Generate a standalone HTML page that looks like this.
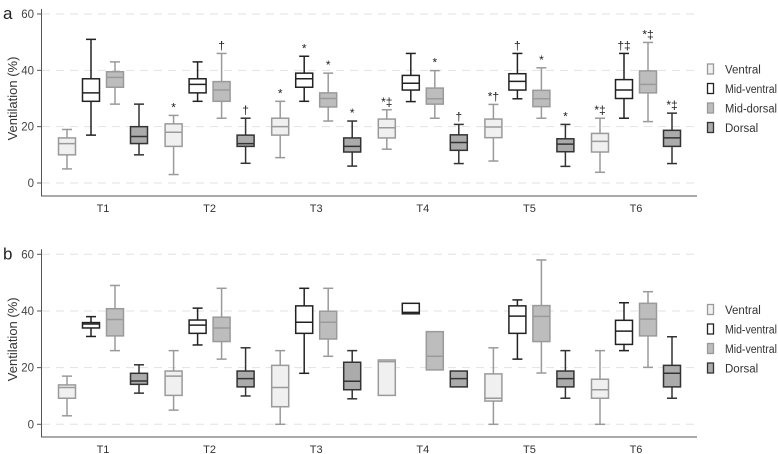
<!DOCTYPE html>
<html><head><meta charset="utf-8"><style>
body{margin:0;background:#fff}
svg{display:block;font-family:"Liberation Sans",Arial,sans-serif}
</style></head><body>
<svg id="chart" width="778" height="454" viewBox="0 0 778 454"></svg>
<script>
const categories = ["T1","T2","T3","T4","T5","T6"];
const seriesNamesA = ["Ventral","Mid-ventral","Mid-dorsal","Dorsal"];
const seriesNamesB = ["Ventral","Mid-ventral","Mid-ventral","Dorsal"];
const yTicks = [0,20,40,60];
// [low, q1, median, q3, high]
const ventralA   = [[5,10,14,16,19],[3,13,18,21,24],[9,17,20,23,29],[12,16,19.6,22.7,26],[7.8,16.1,19.9,22.7,27.9],[3.8,11,14.8,17.6,23]];
const midVentralA= [[17,29,32,37,51],[29,32,35,37,43],[29,34,37,39,45],[28.9,33,35.4,38.2,46],[29.9,33,36.1,38.8,46],[23,30,33,36.7,46]];
const midDorsalA = [[28,34,37.5,39.5,43],[23,29,33,36,46],[22,27,30,32,39],[23,28,29.9,33.7,39.9],[23,27.1,29.9,32.9,40.9],[21.8,32,35,39.8,49.9]];
const dorsalA    = [[10,14,16.5,20,28],[7,13,14,17,23],[6,11,13,16,22],[6.9,11.6,14.4,17.1,20.8],[5.9,11.1,13.8,15.7,20.8],[6.9,13,16,18.7,24.8]];
const marksA = [["","","",""],["*","","†","†"],["*","*","*","*"],["*‡","","*","†"],["*†","†","*","*"],["*‡","†‡","*‡","*‡"]];
const ventralB   = [[3,9.2,13,13.9,17],[5,10.2,17,18.8,26],[0,6.2,13,20.8,26],[10.2,10.2,22.1,22.7,22.7],[0,8.2,9.2,17.8,27],[0,9.2,12.2,15.9,26]];
const midVentralB= [[31,34,35.4,35.9,38],[28,32.1,35,36.8,41],[18,32.1,36,41.8,48],[39,39,39.5,42.7,42.7],[23,32.1,38.2,41.8,43.9],[26,28.2,32.9,36.7,42.9]];
const midDorsalB = [[26,31.2,37,40.8,49],[23,29.2,34,37.8,48],[24,30.1,36,39.9,48],[19.2,19.2,24,32.7,32.7],[18.1,29.2,38.1,41.9,58],[20.1,31.2,37.1,42.7,46.8]];
const dorsalB    = [[11,14.1,15.3,18,21],[10,13.2,16.1,18.8,27],[9,12.2,15.2,21.9,26],[13.2,13.2,16.1,18.8,18.8],[9.2,13.2,16.1,18.8,26],[9.2,13.2,18,20.8,30.9]];

const NS="http://www.w3.org/2000/svg";
const svg=document.getElementById('chart');
function el(tag,attrs,parent){const e=document.createElementNS(NS,tag);for(const k in attrs)e.setAttribute(k,attrs[k]);(parent||svg).appendChild(e);return e;}
const styles=[{fill:"#f0f0f0",stroke:"#9a9a9a"},{fill:"#ffffff",stroke:"#222"},{fill:"#bdbdbd",stroke:"#9a9a9a"},{fill:"#ababab",stroke:"#333"}];
const xCenter=i=>103+i*106.6;
const offs=[-36,-12,12,36];

function panel(cfg){
  const y=v=>cfg.y0-v*(cfg.y0-cfg.y60)/60;
  const g=el('g',{});
  
  
  yTicks.forEach(t=>{
    const gl=el('line',{x1:42,x2:697,y1:y(t),y2:y(t),stroke:"#e2e2e2","stroke-dasharray":"8,6","stroke-width":1},g);
    
    
    el('line',{x1:37,x2:41,y1:y(t),y2:y(t),stroke:"#555"},g);
    const tl=el('text',{x:34,y:y(t)+4,"text-anchor":"end","font-size":11.5,fill:"#444"},g);
    tl.textContent=t;
    
    
  });
  const ax=el('path',{d:`M41.5 ${cfg.y60-5} V${cfg.axisY} H697`,fill:"none",stroke:"#555","stroke-width":1},g);
  
  
  const pl=el('text',{x:3,y:cfg.y60+5,"font-size":17,fill:"#222"},g);
  pl.textContent=cfg.letter;
  
  
  const yt=el('text',{x:0,y:0,"font-size":13,fill:"#333","text-anchor":"middle",transform:`translate(17,${(cfg.y0+cfg.y60)/2}) rotate(-90)`},g);
  yt.textContent="Ventilation (%)";
  
  
  categories.forEach((c,i)=>{
    const t=el('text',{x:xCenter(i),y:cfg.axisY+16,"text-anchor":"middle","font-size":11,fill:"#333"},g);
    t.textContent=c;
    
    
    cfg.series.forEach((s,j)=>{
      const d=s[i], st=styles[j], cx=xCenter(i)+offs[j], w=17;
      const b=el('g',{stroke:st.stroke,"stroke-width":1.5,fill:"none"},g);
      
      
      if(d[4]>d[3]){el('line',{x1:cx,x2:cx,y1:y(d[4]),y2:y(d[3])},b);el('line',{x1:cx-5,x2:cx+5,y1:y(d[4]),y2:y(d[4])},b);}
      if(d[0]<d[1]){el('line',{x1:cx,x2:cx,y1:y(d[1]),y2:y(d[0])},b);el('line',{x1:cx-5,x2:cx+5,y1:y(d[0]),y2:y(d[0])},b);}
      el('rect',{x:cx-w/2,y:y(d[3]),width:w,height:Math.max(1,y(d[1])-y(d[3])),fill:st.fill},b);
      el('line',{x1:cx-w/2,x2:cx+w/2,y1:y(d[2]),y2:y(d[2])},b);
      if(cfg.marks&&cfg.marks[i][j]){
        const m=el('text',{x:cx,y:y(d[4])-4,"text-anchor":"middle","font-size":12,fill:"#222"},g);
        m.textContent=cfg.marks[i][j];
        
        
      }
    });
  });
  cfg.legend.forEach((n,j)=>{
    const ly=cfg.legY+j*19.5;
    const lg=el('g',{},g);
    
    
    el('rect',{x:707.5,y:ly-5,width:6,height:10,fill:styles[j].fill,stroke:styles[j].stroke,"stroke-width":1.3},lg);
    const t=el('text',{x:725,y:ly+4.5,"font-size":11.5,fill:"#333"},lg);
    if(n.length>8){t.setAttribute('textLength',52);t.setAttribute('lengthAdjust','spacingAndGlyphs');}
    t.textContent=n;
  });
}
panel({name:'panel-a',letter:'a',y0:183,y60:14,axisY:196,series:[ventralA,midVentralA,midDorsalA,dorsalA],marks:marksA,legend:seriesNamesA,legY:69});
panel({name:'panel-b',letter:'b',y0:424.3,y60:254.3,axisY:437,series:[ventralB,midVentralB,midDorsalB,dorsalB],marks:null,legend:seriesNamesB,legY:309.5});
</script>
</body></html>
